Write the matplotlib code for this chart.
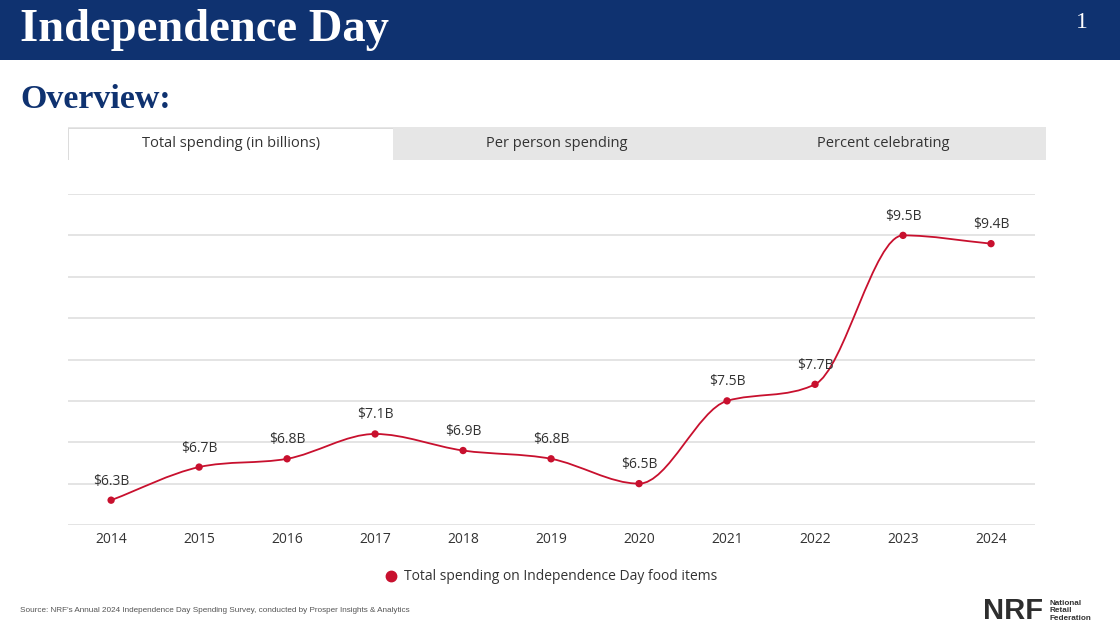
import numpy as np
import matplotlib
matplotlib.use("Agg")
import matplotlib.pyplot as plt
from matplotlib.patches import Rectangle, PathPatch
from matplotlib.path import Path

# data
years = ["2014", "2015", "2016", "2017", "2018", "2019",
         "2020", "2021", "2022", "2023", "2024"]
spending = [6.3, 6.7, 6.8, 7.1, 6.9, 6.8, 6.5, 7.5, 7.7, 9.5, 9.4]
point_labels = ["$6.3B", "$6.7B", "$6.8B", "$7.1B", "$6.9B", "$6.8B",
                "$6.5B", "$7.5B", "$7.7B", "$9.5B", "$9.4B"]
tab_names = ["Total spending (in billions)", "Per person spending",
             "Percent celebrating"]
legend_label = "Total spending on Independence Day food items"

NAVY = "#0f3270"
RED = "#c8102e"
W, H = 1120, 631


def fx(px):
    return px / W


def fy(py):
    return 1 - py / H


def monotone_path(xs, ys):
    # monotone cubic spline as bezier segments (same idea as chart.js)
    xs = np.asarray(xs, float)
    ys = np.asarray(ys, float)
    n = len(xs)
    dx = np.diff(xs)
    d = np.diff(ys) / dx
    m = np.zeros(n)
    m[0] = d[0]
    m[-1] = d[-1]
    for i in range(1, n - 1):
        if d[i - 1] == 0 or d[i] == 0 or np.sign(d[i - 1]) != np.sign(d[i]):
            m[i] = 0
        else:
            m[i] = (d[i - 1] + d[i]) / 2
    for i in range(n - 1):
        if d[i] == 0:
            m[i] = m[i + 1] = 0
            continue
        a = m[i] / d[i]
        b = m[i + 1] / d[i]
        s = a * a + b * b
        if s > 9:
            t = 3 / np.sqrt(s)
            m[i] = t * a * d[i]
            m[i + 1] = t * b * d[i]
    verts = [(xs[0], ys[0])]
    codes = [Path.MOVETO]
    for i in range(n - 1):
        h = dx[i] / 3
        verts += [(xs[i] + h, ys[i] + m[i] * h),
                  (xs[i + 1] - h, ys[i + 1] - m[i + 1] * h),
                  (xs[i + 1], ys[i + 1])]
        codes += [Path.CURVE4] * 3
    return Path(verts, codes)


fig = plt.figure(figsize=(W / 100, H / 100), dpi=100)
fig.patch.set_facecolor("white")

# header band
fig.patches.append(Rectangle((0, fy(60)), 1, 60 / H, transform=fig.transFigure,
                             facecolor=NAVY, edgecolor="none", zorder=0))
fig.text(fx(20), fy(30), "Independence Day", color="white", fontsize=33.5,
         fontweight="bold", family="Liberation Serif", va="center", ha="left")
fig.text(fx(1082), fy(22), "1", color="white", fontsize=17,
         family="Liberation Serif", va="center", ha="center")
fig.text(fx(20), fy(100), "Overview:", color=NAVY, fontsize=24.5,
         fontweight="bold", family="Liberation Serif", va="center", ha="left")

# tabs
fig.patches.append(Rectangle((fx(68), fy(160)), fx(1046) - fx(68), 33 / H,
                             transform=fig.transFigure, facecolor="#e6e6e6",
                             edgecolor="none", zorder=0))
fig.patches.append(Rectangle((fx(68), fy(160)), fx(393) - fx(68), 32 / H,
                             transform=fig.transFigure, facecolor="#dcdcdc",
                             edgecolor="none", zorder=1))
fig.patches.append(Rectangle((fx(69), fy(160)), fx(393) - fx(69), 31 / H,
                             transform=fig.transFigure, facecolor="white",
                             edgecolor="none", zorder=2))
tab_x = [231, 557, 883]
for name, tx in zip(tab_names, tab_x):
    fig.text(fx(tx), fy(144), name, fontsize=10.5, color="#333333",
             family="Open Sans", ha="center", va="center")

# chart
ax = fig.add_axes([fx(68), fy(525), fx(1035) - fx(68), (525 - 194) / H])
x = np.arange(len(years))
ax.add_patch(PathPatch(monotone_path(x, spending), facecolor="none",
                       edgecolor=RED, lw=1.3, zorder=3))
ax.scatter(x, spending, s=28, color=RED, zorder=4, edgecolor="none")
for xi, yi, lab in zip(x, spending, point_labels):
    ax.text(xi, yi + 0.23, lab, ha="center", va="center", fontsize=10,
            color="#333333", family="Open Sans")

ax.set_xlim(-0.49, len(years) - 0.5)
ax.set_ylim(6.0, 10.0)
ax.set_yticks(np.arange(6.0, 10.01, 0.5))
ax.set_yticklabels([])
ax.set_xticks(x)
ax.set_xticklabels(years, fontsize=10, color="#333333", family="Open Sans")
ax.tick_params(axis="both", length=0)
ax.tick_params(axis="x", pad=5)
ax.grid(axis="y", color="#e4e4e4", lw=1.4)
ax.set_axisbelow(True)
for sp in ax.spines.values():
    sp.set_visible(False)

# legend
fig.text(fx(404), fy(576), legend_label, fontsize=10, color="#333333",
         family="Open Sans", ha="left", va="center")
fig.lines.append(plt.Line2D([fx(391)], [fy(576)], marker="o", ms=7.5,
                            color=RED, transform=fig.transFigure))

# footer
fig.text(fx(20), fy(610),
         "Source: NRF's Annual 2024 Independence Day Spending Survey, "
         "conducted by Prosper Insights & Analytics",
         fontsize=5.9, color="#555555", family="Liberation Sans",
         ha="left", va="center")
fig.text(fx(983), fy(611), "NRF", fontsize=21, fontweight="heavy",
         color="#2e2e2e", family="Liberation Sans", ha="left", va="center")
fig.text(fx(1050), fy(611), "National\nRetail\nFederation", fontsize=5.9,
         fontweight="bold", color="#333333", family="Liberation Sans",
         ha="left", va="center", linespacing=1.05)

fig.savefig("out.png", dpi=100)
